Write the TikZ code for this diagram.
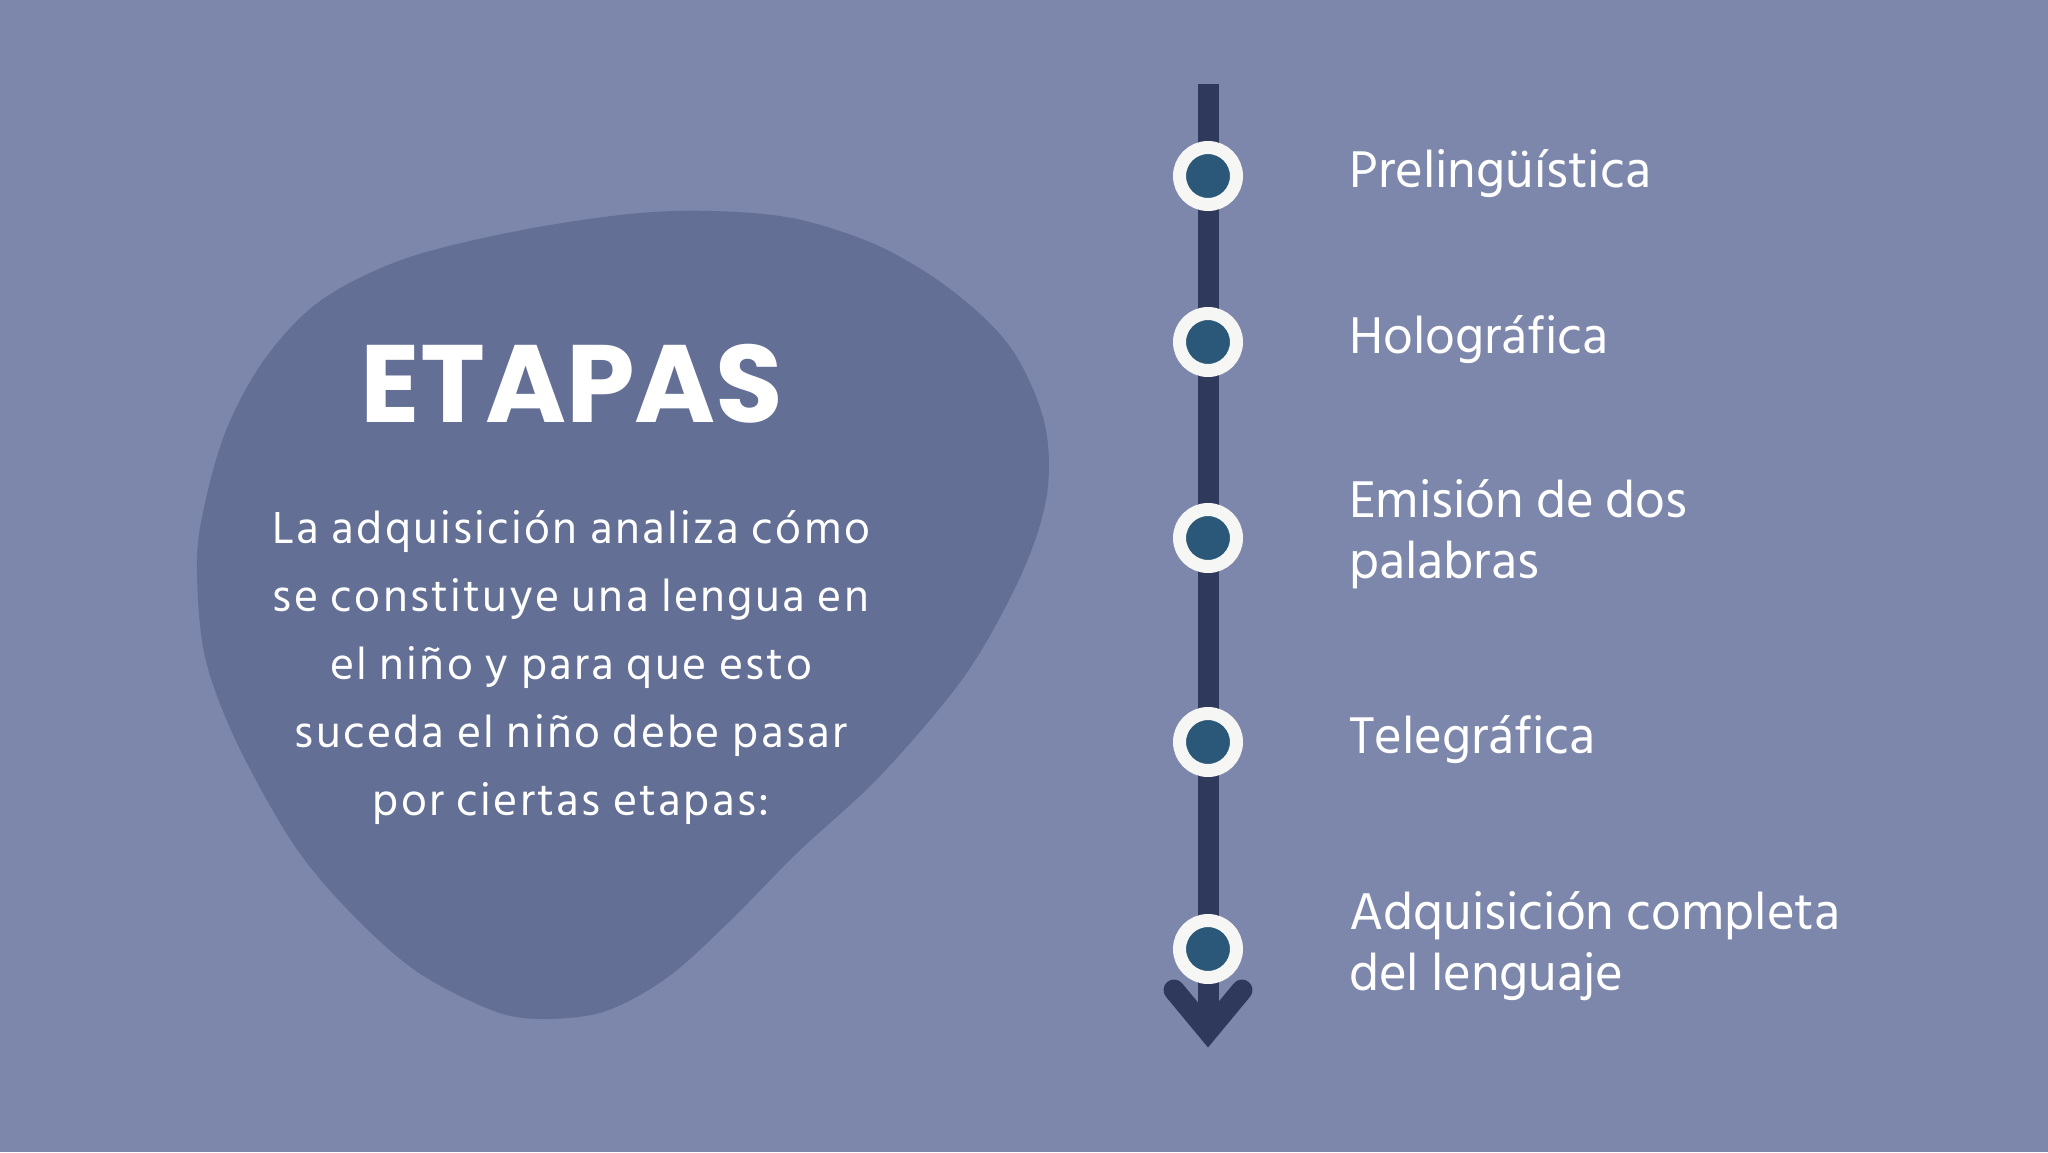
\documentclass[tikz,border=0pt]{standalone}
\usepackage{fontspec}
\setmainfont{Hind Siliguri}
\newfontfamily\bodyfont{Hind Siliguri}[LetterSpace=5]
\newfontfamily\titlefont{Poppins}
\usetikzlibrary{calc}
\definecolor{bgblue}{HTML}{7C87AB}
\definecolor{blobblue}{HTML}{636F95}
\definecolor{stemblue}{HTML}{2E395C}
\definecolor{dotblue}{HTML}{2B5878}
\definecolor{ringwhite}{HTML}{F6F6F4}
\newcommand{\stagedot}[2]{\node[dot] (#1) at (1208,#2) {};}
\newcommand{\stagetext}[3]{\node[stagelabel] (#1) at (1349,#2) {#3};}

\begin{document}
\begin{tikzpicture}[x=1pt,y=-1pt,
    dot/.style={circle,fill=dotblue,draw=ringwhite,line width=13pt,minimum size=57pt,inner sep=0pt},
    stagelabel/.style={anchor=base west,inner sep=0pt,text=white,font=\fontsize{53}{55}\selectfont},
    bodyline/.style={anchor=base,inner sep=0pt,text=white,font=\bodyfont\fontsize{46}{68}\selectfont},
    stem/.style={draw=stemblue,line width=21pt},
    chevron/.style={draw=stemblue,line width=21pt,line cap=round,line join=miter}]
        % background
        \useasboundingbox (0,0) rectangle (2048,1152);
        \fill[bgblue] (0,0) rectangle (2048,1152);
        % blob
        \fill[blobblue] plot[smooth cycle,tension=0.55] coordinates {
            (713,211) (797,219) (881,247) (954,292) (1011,348) (1044,421)
            (1047,494) (1022,573) (966,674) (881,775) (797,853) (730,921)
            (668,977) (606,1011) (545,1019) (494,1011) (416,971) (348,910)
            (292,842) (236,741) (205,657) (197,573) (202,517) (225,433)
            (264,360) (320,301) (404,259) (517,231) (629,214)};
        % title
        \node[anchor=base,inner sep=0pt,text=white,font=\titlefont\bfseries\fontsize{110}{110}\selectfont] (title) at (572,422) {ETAPAS};
        % body text
        \foreach \t [count=\i] in {La adquisición analiza cómo,se constituye una lengua en,el niño y para que esto,suceda el niño debe pasar,por ciertas etapas:}
            \node[bodyline] (line\i) at (571,475+68*\i) {\t};
        % arrow
        \coordinate (top) at (1208,84);
        \coordinate (tip) at (1208,1031);
        \draw[stem] (top) -- (tip);
        \draw[chevron] ($(tip)+(-34,-41)$) -- (tip) -- ($(tip)+(34,-41)$);
        % dots
        \stagedot{d1}{176}
        \stagedot{d2}{342}
        \stagedot{d3}{538}
        \stagedot{d4}{742}
        \stagedot{d5}{949}
        % labels
        \stagetext{s1}{187}{Prelingüística}
        \stagetext{s2}{353}{Holográfica}
        \stagetext{s3}{517}{Emisión de dos}
        \stagetext{s3b}{578}{palabras}
        \stagetext{s4}{753}{Telegráfica}
        \stagetext{s5}{929}{Adquisición completa}
        \stagetext{s5b}{990}{del lenguaje}
\end{tikzpicture}
\end{document}
